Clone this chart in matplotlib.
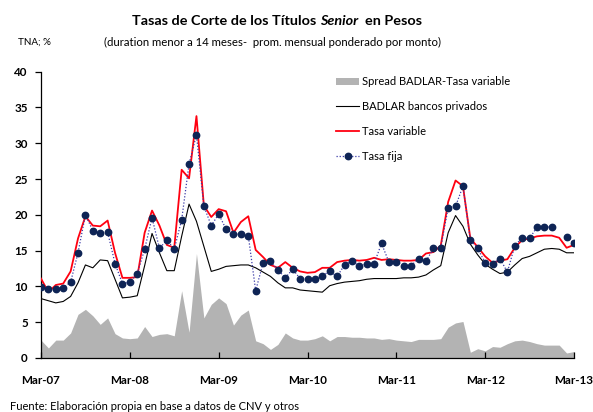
import numpy as np
import matplotlib
matplotlib.use("Agg")
import matplotlib.pyplot as plt
from matplotlib.patches import Patch
from matplotlib.lines import Line2D

# Monthly series, Mar-07 .. Mar-13 (73 months)
badlar = [8.3, 8.0, 7.7, 7.9, 8.6, 10.5, 13.0, 12.6, 13.7, 13.6, 11.0, 8.4, 8.5,
          8.7, 12.9, 17.4, 14.7, 12.2, 12.2, 17.0, 21.5, 19.1, 15.6, 12.1,
          12.4, 12.8, 12.9, 13.0, 13.0, 12.6, 12.0, 11.4, 10.5, 9.8, 9.8, 9.5,
          9.4, 9.3, 9.2, 10.1, 10.4, 10.6, 10.7, 10.8, 11.0, 11.1, 11.1, 11.1,
          11.1, 11.2, 11.2, 11.3, 11.6, 12.3, 12.9, 17.5, 19.9, 18.4, 15.9, 14.4,
          13.1, 12.4, 11.8, 12.0, 13.0, 13.9, 14.2, 14.7, 15.2, 15.3, 15.2, 14.7, 14.7]

tasa_variable = [11.1, 9.2, 10.2, 10.4, 12.1, 16.7, 19.8, 18.5, 18.4, 19.2, 14.7, 11.2, 11.2,
                 11.3, 17.5, 20.6, 18.5, 15.8, 15.4, 26.3, 25.1, 33.8, 21.3, 19.7,
                 20.8, 20.5, 17.5, 19.0, 19.8, 15.1, 14.1, 13.0, 12.6, 13.4, 12.6, 12.1,
                 11.9, 12.0, 12.6, 12.6, 13.4, 13.6, 13.7, 13.6, 13.7, 14.0, 13.7, 13.8,
                 13.7, 13.6, 13.6, 13.7, 14.6, 14.8, 15.7, 21.8, 24.8, 24.0, 16.7, 15.5,
                 14.2, 13.3, 13.6, 13.8, 15.4, 16.5, 16.7, 17.0, 17.1, 17.1, 16.8, 15.4, 15.8]

spread = [2.5, 1.4, 2.5, 2.5, 3.5, 6.1, 6.8, 5.9, 4.7, 5.6, 3.4, 2.8, 2.7,
          2.8, 4.4, 3.0, 3.3, 3.4, 3.1, 9.4, 3.6, 14.6, 5.6, 7.5,
          8.4, 7.6, 4.6, 6.0, 6.7, 2.4, 2.0, 1.2, 1.9, 3.5, 2.8, 2.5,
          2.5, 2.7, 3.1, 2.4, 3.0, 3.0, 2.9, 2.9, 2.8, 2.8, 2.6, 2.7,
          2.5, 2.4, 2.3, 2.6, 2.6, 2.6, 2.7, 4.3, 4.9, 5.1, 0.8, 1.3,
          1.0, 1.6, 1.5, 2.0, 2.4, 2.5, 2.3, 2.0, 1.8, 1.8, 1.8, 0.7, 0.9]

nan = np.nan
tasa_fija = [9.9, 9.6, 9.7, 9.8, 10.6, 14.7, 20.0, 17.8, 17.4, 17.6, 13.2, 10.4, 10.6,
             11.8, 15.2, 19.6, 15.3, 16.5, 15.2, 19.3, 27.1, 31.2, 21.2, 18.5,
             20.1, 18.0, 17.3, 17.3, 17.1, 9.4, 13.3, 13.5, 12.3, 11.2, 12.4, 11.1,
             11.1, 11.0, 11.5, 12.1, 11.4, 13.0, 13.6, 12.8, 13.2, 13.2, 16.0, 13.4,
             13.4, 12.9, 12.9, 13.9, 13.5, 15.3, 15.4, 21.0, 21.2, 24.0, 16.5, 15.3,
             13.3, 13.2, 13.9, 12.0, 15.7, 16.8, 16.7, 18.3, 18.3, 18.3, nan, 16.9, 16.0]

tick_labels = ["Mar-07", "Mar-08", "Mar-09", "Mar-10", "Mar-11", "Mar-12", "Mar-13"]

FONT = ["Lato", "DejaVu Sans"]
plt.rcParams["font.family"] = FONT

W, H = 593, 412
months = np.arange(len(badlar))

fig = plt.figure(figsize=(W / 100, H / 100), dpi=100)
fig.canvas.draw()
renderer = fig.canvas.get_renderer()


def fitted_size(s, target_px, base=10.0, **kw):
    """Font size at which string s spans target_px pixels."""
    t = fig.text(0, 0, s, fontsize=base, **kw)
    w = t.get_window_extent(renderer).width
    t.remove()
    return base * target_px / w


def fx(px):
    return px / W


def fy(py):
    return 1 - py / H


ax = fig.add_axes([fx(41), fy(358), (574 - 41) / W, (358 - 71.7) / H])

ax.fill_between(months, 0, spread, color="#b3b3b3", linewidth=0, zorder=1)
ax.plot(months, badlar, color="black", linewidth=0.8, zorder=2)
ax.plot(months, tasa_variable, color="#ff0010", linewidth=1.3, zorder=3)
fija_style = dict(color="#3a3aa8", linewidth=0.9, linestyle=(0, (1, 1.5)),
                  marker="o", markersize=4.6, markerfacecolor="#0e2455",
                  markeredgecolor="#0e2455")
ax.plot(months, tasa_fija, zorder=4, **fija_style)

ax.set_xlim(0, len(months) - 1)
ax.set_ylim(0, 40)
ax.set_yticks(np.arange(0, 41, 5))
ax.set_xticks(np.arange(0, len(months), 12))
ax.set_xticklabels(tick_labels)

for s in ("top", "right"):
    ax.spines[s].set_visible(False)
for s in ("left", "bottom"):
    ax.spines[s].set_linewidth(0.9)

tick_size = fitted_size("Mar-07", 39, fontweight="bold")
ax.tick_params(axis="y", direction="out", length=4, width=0.9, pad=5.5,
               labelsize=tick_size)
ax.tick_params(axis="x", direction="in", length=4, width=0.9, pad=12,
               labelsize=tick_size)
for lab in ax.get_xticklabels() + ax.get_yticklabels():
    lab.set_fontweight("bold")

labels = ["Spread BADLAR-Tasa variable", "BADLAR bancos privados",
          "Tasa variable", "Tasa fija"]
handles = [
    Patch(facecolor="#b3b3b3", edgecolor="none"),
    Line2D([], [], color="black", linewidth=0.8),
    Line2D([], [], color="#ff0010", linewidth=1.3),
    Line2D([], [], **fija_style),
]
leg_size = fitted_size(labels[0], 148)
leg_px = leg_size * 100 / 72
ax.legend(handles, labels, loc="upper left",
          bbox_to_anchor=(fx(336), fy(83 - leg_px * 0.5 - 1)),
          bbox_transform=fig.transFigure, frameon=False, fontsize=leg_size,
          handlelength=23 / leg_px, handleheight=0.65,
          handletextpad=3 / leg_px, labelspacing=(25 - leg_px) / leg_px,
          borderaxespad=0, borderpad=0)

# Title, with the italic word
parts = [("Tasas de Corte de los Títulos ", "normal"), ("Senior", "italic"),
         ("  en Pesos", "normal")]
texts = [fig.text(0, fy(21), s, fontsize=12, fontweight="bold",
                  fontstyle=st, va="center", ha="left") for s, st in parts]
total = sum(t.get_window_extent(renderer).width for t in texts)
scale = 288 / total
for t in texts:
    t.set_fontsize(12 * scale)
widths = [t.get_window_extent(renderer).width for t in texts]
x0 = 277 - sum(widths) / 2
for t, w in zip(texts, widths):
    t.set_x(fx(x0))
    x0 += w

sub = "(duration menor a 14 meses-  prom. mensual ponderado por monto)"
fig.text(fx(272), fy(42.5), sub, fontsize=fitted_size(sub, 340),
         ha="center", va="center")
fig.text(fx(18), fy(42.5), "TNA; %", fontsize=fitted_size("TNA; %", 33),
         ha="left", va="center")
src = "Fuente: Elaboración propia en base a datos de CNV y otros"
fig.text(fx(10), fy(406), src, fontsize=fitted_size(src, 287),
         ha="left", va="center")

fig.savefig("out.png", dpi=100)
